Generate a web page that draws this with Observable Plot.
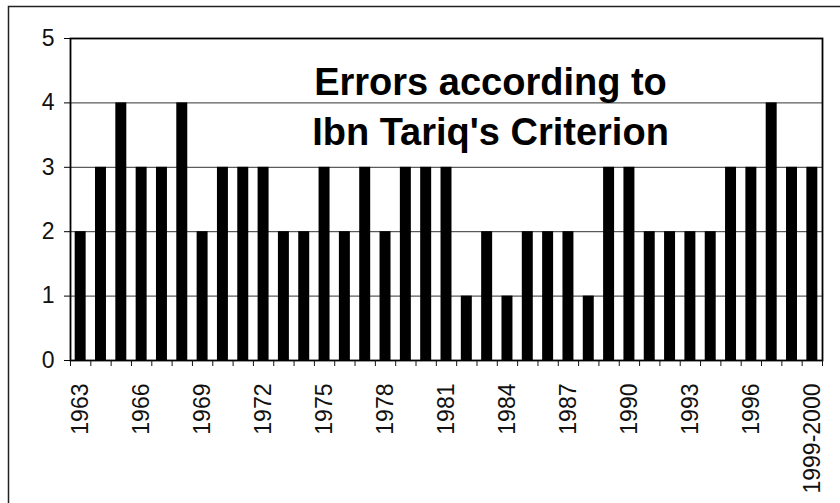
<!DOCTYPE html>
<html>
<head>
<meta charset="utf-8">
<script src="https://cdn.jsdelivr.net/npm/d3@7"></script>
<script src="https://cdn.jsdelivr.net/npm/@observablehq/plot@0.6"></script>
<style>
  html, body { margin: 0; padding: 0; background: white; }
  #chart g[aria-label$="tick label"], #chart g[aria-label$="tick label"] text { font-size: 23px; }
</style>
</head>
<body>
<div id="chart"></div>
<script>
const categories = ["1963","1964","1965","1966","1967","1968","1969","1970","1971","1972",
  "1973","1974","1975","1976","1977","1978","1979","1980","1981","1982","1983","1984",
  "1985","1986","1987","1988","1989","1990","1991","1992","1993","1994","1995","1996",
  "1997","1998","1999-2000"];
const errors = [2,3,4,3,3,4,2,3,3,3,2,2,3,2,3,2,3,3,3,1,2,1,2,2,2,1,3,3,2,2,2,2,3,3,4,3,3];
const labelTicks = ["1963","1966","1969","1972","1975","1978","1981","1984","1987","1990","1993","1996","1999-2000"];
const yTicks = [0,1,2,3,4,5];
const titleText = "Errors according to\nIbn Tariq's Criterion";

const data = categories.map((c, i) => ({year: c, errors: errors[i]}));

const W = 840, H = 503, mL = 70, mR = 18, mT = 38, mB = 143;
const step = (W - mL - mR) / categories.length;

const chart = Plot.plot({
  width: W, height: H,
  marginLeft: mL, marginRight: mR, marginTop: mT, marginBottom: mB,
  style: {fontFamily: "'Liberation Sans', Arial, sans-serif", fontSize: "23px", color: "#111", background: "white"},
  x: {domain: categories, paddingInner: 0.46, paddingOuter: 0.23, round: false},
  y: {domain: [0, 5]},
  marks: [
    Plot.gridY(yTicks.slice(1), {stroke: "#333", strokeOpacity: 1, strokeWidth: 1}),
    Plot.barY(data, {x: "year", y: "errors", fill: "black"}),
    Plot.frame({stroke: "black", strokeWidth: 1.8}),
    Plot.axisY({ticks: yTicks, tickSize: 6, tickPadding: 10, tickFormat: d3.format("d"), label: null, stroke: "black"}),
    Plot.axisX({ticks: categories, tickSize: 6, tickFormat: () => "", dx: -step / 2, label: null}),
    Plot.axisX({ticks: categories.slice(-1), tickSize: 6, tickFormat: () => "", dx: step / 2, label: null}),
    Plot.axisX({ticks: labelTicks, tickSize: 0, tickRotate: -90, tickPadding: 23, label: null}),
    Plot.text([titleText], {frameAnchor: "top", dx: 44, dy: 21, fontSize: 38, fontWeight: "bold", lineHeight: 1.32, fill: "black"})
  ]
});

d3.select(chart).append("rect")
  .attr("x", 8.5).attr("y", 6.5).attr("width", 840).attr("height", 500)
  .attr("fill", "none").attr("stroke", "#222").attr("stroke-width", 1.5);

document.getElementById("chart").appendChild(chart);
</script>
</body>
</html>
